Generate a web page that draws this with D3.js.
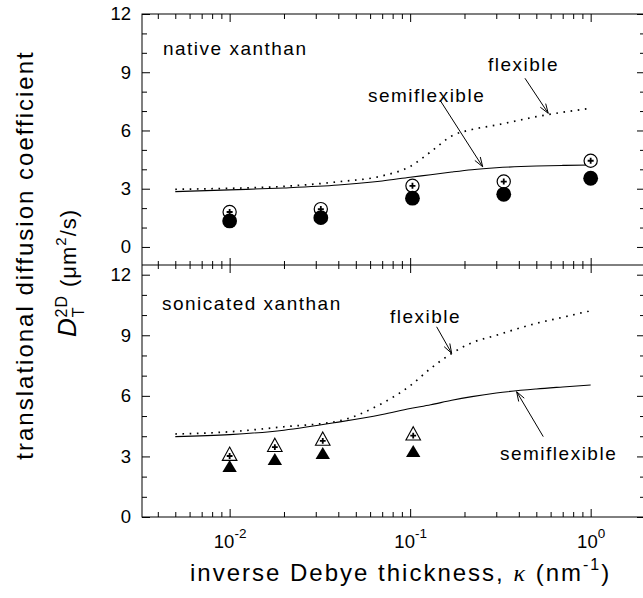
<!DOCTYPE html>
<html><head><meta charset="utf-8">
<script src="https://cdn.jsdelivr.net/npm/d3@7"></script>
<style>
body{margin:0;background:#fff}
svg{display:block}
text{font-family:"Liberation Sans",Arial,Helvetica,sans-serif;fill:#000}
</style>
</head><body>
<svg id="c" width="643" height="598"></svg>
<script>
// ---------------- data ----------------
const kappaGrid = [0.005, 0.01, 0.02, 0.04, 0.07, 0.1, 0.13, 0.17, 0.22, 0.3, 0.5, 0.7, 1.0];
const nativeSemiflexible = [2.85, 2.94, 3.04, 3.19, 3.40, 3.59, 3.72, 3.86, 3.98, 4.08, 4.17, 4.20, 4.22];
const nativeFlexible     = [2.97, 3.02, 3.12, 3.36, 3.66, 4.15, 4.90, 5.72, 6.05, 6.28, 6.71, 6.94, 7.14];
const sonicSemiflexible  = [3.98, 4.08, 4.30, 4.70, 5.08, 5.37, 5.56, 5.78, 5.96, 6.14, 6.34, 6.44, 6.54];
const sonicFlexible      = [4.11, 4.22, 4.47, 4.75, 5.63, 6.50, 7.36, 8.10, 8.63, 9.00, 9.59, 9.89, 10.22];

const nativeKappa   = [0.01, 0.032, 0.103, 0.33, 1.0];
const nativeOpen    = [1.80, 1.95, 3.15, 3.37, 4.44];
const nativeFilled  = [1.34, 1.51, 2.51, 2.71, 3.54];

const sonicKappa    = [0.01, 0.0178, 0.0328, 0.104];
const sonicOpen     = [3.13, 3.57, 3.88, 4.14];
const sonicFilled   = [2.53, 2.87, 3.17, 3.27];

const yMajorTicks = [0, 3, 6, 9, 12];
const yMinorTicks = [1, 2, 4, 5, 7, 8, 10, 11];
const xMajorTicks = [0.01, 0.1, 1];
const xMajorExp   = ["-2", "-1", "0"];
const xMinorTicks = [0.004,0.005,0.006,0.007,0.008,0.009,0.02,0.03,0.04,0.05,0.06,0.07,0.08,0.09,0.2,0.3,0.4,0.5,0.6,0.7,0.8,0.9];

// annotations (data coordinates)
const topLabels = [
  {text:"native xanthan", k:0.00427, v:9.89},
  {text:"flexible",       k:0.2698,  v:9.06},
  {text:"semiflexible",   k:0.0584,  v:7.48}
];
const topArrows = [
  {k1:0.4326, v1:8.69, k2:0.582, v2:6.885},
  {k1:0.1462, v1:7.57, k2:0.2522, v2:4.134}
];
const botLabels = [
  {text:"sonicated xanthan", k:0.00422, v:10.25},
  {text:"flexible",          k:0.0773,  v:9.61},
  {text:"semiflexible",      k:0.3145,  v:2.82}
];
const botArrows = [
  {k1:0.1402, v1:9.42, k2:0.1698, v2:8.107},
  {k1:0.5463, v1:3.98, k2:0.389, v2:6.205}
];

// ---------------- scales ----------------
const svg = d3.select("#c");
const x = d3.scaleLog().domain([0.00327, 2.0]).range([142, 645]);
const yTop = d3.scaleLinear().domain([-0.93, 12]).range([265, 14]);
const yBot = d3.scaleLinear().domain([0, 12.48]).range([517, 265]);

const L = 142, R = 645, T = 14, M = 265, B = 517;

// ---------------- axes ----------------
function styleAxis(g){
  g.select(".domain").remove();
  g.selectAll(".tick line").attr("stroke","#000").attr("stroke-width",1);
}
function yAxes(scale){
  svg.append("g").attr("transform",`translate(${L},0)`)
    .call(d3.axisLeft(scale).tickValues(yMajorTicks).tickSizeInner(-8).tickSizeOuter(0).tickPadding(11).tickFormat(d3.format("d")))
    .call(styleAxis)
    .selectAll("text").attr("font-size",18.5).attr("font-family",'"Liberation Sans",Arial,sans-serif');
  svg.append("g").attr("transform",`translate(${L},0)`)
    .call(d3.axisLeft(scale).tickValues(yMinorTicks).tickSizeInner(-5).tickSizeOuter(0).tickFormat(""))
    .call(styleAxis);
  svg.append("g").attr("transform",`translate(${R},0)`)
    .call(d3.axisRight(scale).tickValues(yMajorTicks).tickSizeInner(-8).tickSizeOuter(0).tickFormat(""))
    .call(styleAxis);
  svg.append("g").attr("transform",`translate(${R},0)`)
    .call(d3.axisRight(scale).tickValues(yMinorTicks).tickSizeInner(-5).tickSizeOuter(0).tickFormat(""))
    .call(styleAxis);
}
yAxes(yTop);
yAxes(yBot);

function xAxis(maker, yPos, majLen, minLen){
  svg.append("g").attr("transform",`translate(0,${yPos})`)
    .call(maker(x).tickValues(xMajorTicks).tickSizeInner(majLen).tickSizeOuter(0).tickFormat(""))
    .call(styleAxis);
  svg.append("g").attr("transform",`translate(0,${yPos})`)
    .call(maker(x).tickValues(xMinorTicks).tickSizeInner(minLen).tickSizeOuter(0).tickFormat(""))
    .call(styleAxis);
}
xAxis(d3.axisTop, T, -8, -5);
xAxis(d3.axisBottom, M, -7, -4);
xAxis(d3.axisTop, M, -8, -4);
// bottom axis with labels
const bx = svg.append("g").attr("transform",`translate(0,${B})`)
  .call(d3.axisBottom(x).tickValues(xMajorTicks).tickSizeInner(-8).tickSizeOuter(0).tickPadding(18))
  .call(styleAxis);
bx.selectAll(".tick text").each(function(d,i){
  const t = d3.select(this);
  t.text(null).attr("font-size",18.5).attr("font-family",'"Liberation Sans",Arial,sans-serif');
  t.append("tspan").text("10");
  t.append("tspan").attr("font-size",13.5).attr("dy",-10).text(xMajorExp[i]);
});
svg.append("g").attr("transform",`translate(0,${B})`)
  .call(d3.axisBottom(x).tickValues(xMinorTicks).tickSizeInner(-5).tickSizeOuter(0).tickFormat(""))
  .call(styleAxis);

// frame
svg.append("rect").attr("x",L).attr("y",T).attr("width",R-L).attr("height",B-T)
  .attr("fill","none").attr("stroke","#000").attr("stroke-width",1);
svg.append("line").attr("x1",L).attr("x2",R).attr("y1",M).attr("y2",M)
  .attr("stroke","#000").attr("stroke-width",1);

// ---------------- curves ----------------
function curve(yScale, values, dotted){
  const line = d3.line().x(d=>x(d[0])).y(d=>yScale(d[1])).curve(d3.curveMonotoneX);
  svg.append("path").datum(kappaGrid.map((k,i)=>[k,values[i]]))
    .attr("d",line).attr("fill","none").attr("stroke","#000")
    .attr("stroke-width",dotted?1.7:1.1)
    .attr("stroke-dasharray",dotted?"1.6,5.6":null);
}
curve(yTop, nativeFlexible, true);
curve(yTop, nativeSemiflexible, false);
curve(yBot, sonicFlexible, true);
curve(yBot, sonicSemiflexible, false);

// ---------------- points ----------------
function plusPath(cx, cy, s){ return `M${cx-s},${cy}H${cx+s}M${cx},${cy-s}V${cy+s}`; }

const gTopPts = svg.append("g");
nativeKappa.forEach((k,i)=>{
  const cx = x(k), cy = yTop(nativeOpen[i]);
  gTopPts.append("circle").attr("cx",cx).attr("cy",cy).attr("r",6.6)
    .attr("fill","#fff").attr("stroke","#000").attr("stroke-width",1.2);
  gTopPts.append("path").attr("d",plusPath(cx,cy,3)).attr("stroke","#000").attr("stroke-width",1.8);
});
nativeKappa.forEach((k,i)=>{
  gTopPts.append("circle").attr("cx",x(k)).attr("cy",yTop(nativeFilled[i])).attr("r",7.4).attr("fill","#000");
});

const gBotPts = svg.append("g");
sonicKappa.forEach((k,i)=>{
  const cx = x(k), cy = yBot(sonicOpen[i]);
  gBotPts.append("path").attr("d",`M${cx},${cy-6.7}L${cx+7.3},${cy+6.6}L${cx-7.3},${cy+6.6}Z`)
    .attr("fill","#fff").attr("stroke","#000").attr("stroke-width",1.1);
  gBotPts.append("path").attr("d",plusPath(cx,cy+2.2,2.9)).attr("stroke","#000").attr("stroke-width",1.8);
});
sonicKappa.forEach((k,i)=>{
  const cx = x(k), cy = yBot(sonicFilled[i]);
  gBotPts.append("path").attr("d",`M${cx},${cy-6}L${cx+7.2},${cy+6}L${cx-7.2},${cy+6}Z`).attr("fill","#000");
});

// ---------------- annotations ----------------
function arrow(yScale, a){
  const x1=x(a.k1), y1=yScale(a.v1), x2=x(a.k2), y2=yScale(a.v2);
  const ang = Math.atan2(y2-y1, x2-x1), len=10, spread=0.33;
  const p1=[x2-len*Math.cos(ang-spread), y2-len*Math.sin(ang-spread)];
  const p2=[x2-len*Math.cos(ang+spread), y2-len*Math.sin(ang+spread)];
  svg.append("path").attr("d",`M${x1},${y1}L${x2},${y2}M${p1[0]},${p1[1]}L${x2},${y2}L${p2[0]},${p2[1]}`)
    .attr("fill","none").attr("stroke","#000").attr("stroke-width",1);
}
topArrows.forEach(a=>arrow(yTop,a));
botArrows.forEach(a=>arrow(yBot,a));
function label(yScale, l){
  svg.append("text").attr("x",x(l.k)).attr("y",yScale(l.v)).attr("font-size",19)
    .attr("letter-spacing",1.5).text(l.text);
}
topLabels.forEach(l=>label(yTop,l));
botLabels.forEach(l=>label(yBot,l));

// ---------------- titles ----------------
const xt = svg.append("text").attr("x",190).attr("y",581).attr("font-size",24).attr("letter-spacing",2);
xt.append("tspan").text("inverse Debye thickness, ");
xt.append("tspan").attr("font-family",'"Liberation Serif","Times New Roman",serif').attr("font-style","italic").text("κ");
xt.append("tspan").text(" (nm");
xt.append("tspan").attr("font-size",16).attr("dy",-11).text("-1");
xt.append("tspan").attr("dy",11).text(")");

svg.append("text").attr("transform","translate(33,255) rotate(-90)").attr("text-anchor","middle")
  .attr("font-size",24).attr("letter-spacing",2).text("translational diffusion coefficient");

const yt = svg.append("text").attr("transform","translate(76,337) rotate(-90)").attr("font-size",24).attr("letter-spacing",1);
yt.append("tspan").attr("font-style","italic").attr("font-size",26).text("D");
yt.append("tspan").attr("font-size",16).attr("dy",8).text("T");
yt.append("tspan").attr("font-size",16).attr("dx",-11).attr("dy",-17).text("2D");
yt.append("tspan").attr("font-size",22).attr("dx",8).attr("dy",9).text("(μm");
yt.append("tspan").attr("font-size",15).attr("dy",-10).text("2");
yt.append("tspan").attr("font-size",22).attr("dy",10).text("/s)");
</script>
</body></html>
